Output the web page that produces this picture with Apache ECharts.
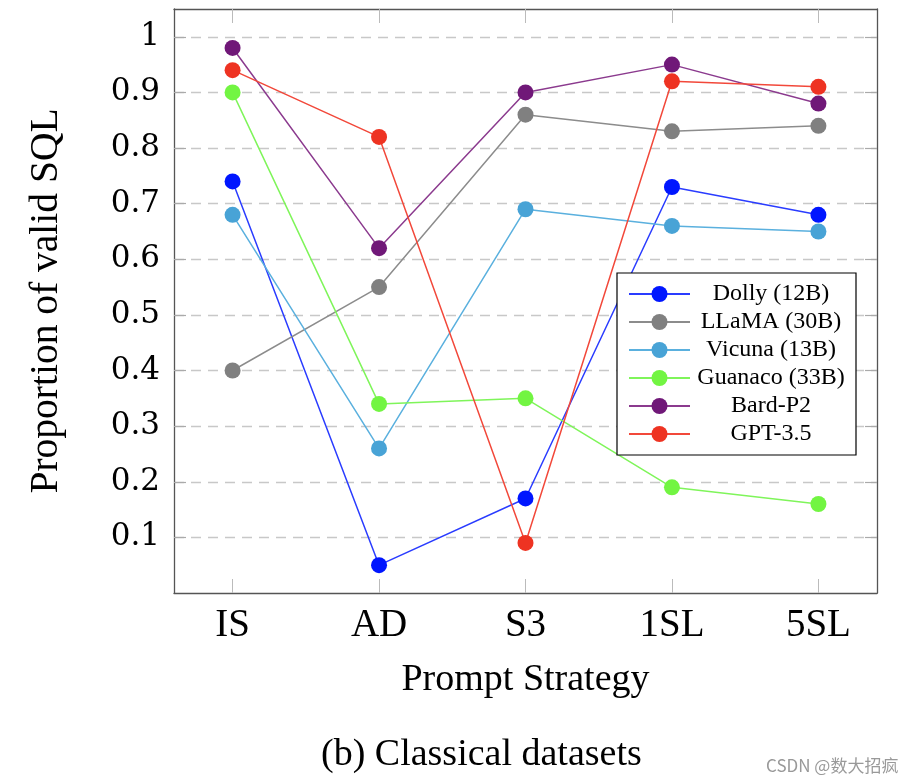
<!DOCTYPE html>
<html>
<head>
<meta charset="utf-8">
<script src="https://cdn.jsdelivr.net/npm/echarts@6/dist/echarts.min.js"></script>
<style>html,body{margin:0;padding:0;background:#fff;}#c{width:914px;height:780px;}</style>
</head>
<body>
<div id="c"></div>
<script>
const categories = ['IS', 'AD', 'S3', '1SL', '5SL'];
const yTicks = [0.1, 0.2, 0.3, 0.4, 0.5, 0.6, 0.7, 0.8, 0.9, 1];
const seriesNames = ['Dolly (12B)', 'LLaMA (30B)', 'Vicuna (13B)', 'Guanaco (33B)', 'Bard-P2', 'GPT-3.5'];
const dolly   = [0.74, 0.05, 0.17, 0.73, 0.68];
const llama   = [0.40, 0.55, 0.86, 0.83, 0.84];
const vicuna  = [0.68, 0.26, 0.69, 0.66, 0.65];
const guanaco = [0.90, 0.34, 0.35, 0.19, 0.16];
const bard    = [0.98, 0.62, 0.90, 0.95, 0.88];
const gpt     = [0.94, 0.82, 0.09, 0.92, 0.91];
const values = [dolly, llama, vicuna, guanaco, bard, gpt];
const markerColors = ['#0016ff', '#808080', '#48a3d6', '#72f542', '#701878', '#ee3322'];
const lineColors   = ['#2a3cff', '#8c8c8c', '#5ab0de', '#7ff55a', '#8b3a8e', '#f2483a'];

const serif = '"Liberation Serif", "Times New Roman", serif';
const chart = echarts.init(document.getElementById('c'));

const xIdx = categories.map((c, i) => i);
function xAxisCfg(pos, showLabels) {
  return {
    type: 'value', position: pos, min: -0.4, max: 4.4,
    axisLine: { show: true, onZero: false, lineStyle: { color: '#555', width: 1.3 } },
    axisTick: { show: true, inside: true, length: 14, customValues: xIdx, lineStyle: { color: '#bbb', width: 1 } },
    axisLabel: {
      show: showLabels, customValues: xIdx, margin: 13,
      formatter: v => categories[Math.round(v)],
      fontFamily: serif, fontSize: 39, color: '#000'
    },
    splitLine: { show: false },
    name: showLabels ? 'Prompt Strategy' : '',
    nameLocation: 'middle', nameGap: 68,
    nameTextStyle: { fontFamily: serif, fontSize: 38, color: '#000' }
  };
}
function yAxisCfg(pos, showLabels) {
  return {
    type: 'value', position: pos, min: 0, max: 1.05,
    axisLine: { show: true, onZero: false, lineStyle: { color: '#555', width: 1.3 } },
    axisTick: { show: true, inside: true, length: 12, customValues: yTicks, lineStyle: { color: '#aaa', width: 1.2 } },
    axisLabel: {
      show: showLabels, customValues: yTicks, margin: 14,
      formatter: v => (Math.abs(v - 1) < 1e-9 ? '1' : v.toFixed(1)),
      fontFamily: '"DejaVu Serif", serif', fontSize: 31, color: '#000'
    },
    splitLine: showLabels ? { show: true, lineStyle: { color: '#c8c8c8', type: [10, 7], width: 1.3 } } : { show: false },
    name: showLabels ? 'Proportion of valid SQL' : '',
    nameLocation: 'middle', nameGap: 107,
    nameTextStyle: { fontFamily: serif, fontSize: 39.5, color: '#000' }
  };
}

const series = seriesNames.map((name, s) => ({
  name: name,
  type: 'line',
  data: values[s].map((v, i) => [i, v]),
  symbol: 'circle',
  symbolSize: 16,
  itemStyle: { color: markerColors[s] },
  lineStyle: { color: lineColors[s], width: 1.5 },
  emphasis: { disabled: true },
  animation: false
}));

chart.setOption({
  animation: false,
  title: [
    { text: '(b) Classical datasets', left: 316, top: 731,
      textStyle: { fontFamily: serif, fontSize: 38, fontWeight: 'normal', color: '#000' } },
    { text: 'CSDN @数大招疯', left: 761, top: 752,
      textStyle: { fontFamily: '"Noto Sans CJK SC", sans-serif', fontSize: 17, fontWeight: 'normal', color: '#999' } }
  ],
  grid: { left: 174, right: 37, top: 9, bottom: 187, containLabel: false },
  xAxis: [xAxisCfg('bottom', true), xAxisCfg('top', false)],
  yAxis: [yAxisCfg('left', true), yAxisCfg('right', false)],
  legend: {
    orient: 'vertical', left: 617, top: 273,
    padding: [9, 9, 9, 11],
    itemWidth: 61, itemHeight: 20, itemGap: 4,
    backgroundColor: '#fff', borderColor: '#000', borderWidth: 1.2,
    formatter: name => '{c|' + name + '}',
    textStyle: {
      fontFamily: serif, fontSize: 24, color: '#000',
      rich: { c: { width: 152, align: 'center', fontFamily: serif, fontSize: 24, lineHeight: 24 } }
    },
    data: seriesNames
  },
  series: series
});
</script>
</body>
</html>
